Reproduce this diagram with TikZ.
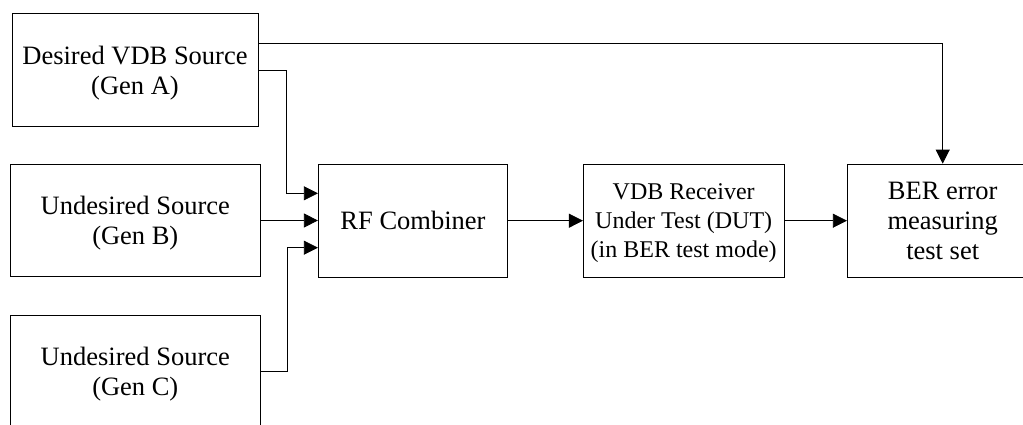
\documentclass[tikz,border=0pt]{standalone}
\usepackage{fontspec}
\setmainfont{Liberation Serif}
\usetikzlibrary{arrows.meta}
\begin{document}
\begin{tikzpicture}[x=1pt,y=-1pt,
  blk/.style={draw, line width=0.8pt, rectangle, inner sep=0pt, align=center,
    text depth=0pt, font=\fontsize{26.5}{30}\selectfont},
  small/.style={font=\fontsize{24}{29}\selectfont},
  conn/.style={line width=0.8pt},
  arr/.style={conn, -{Triangle[length=14pt,width=14pt]}}]
\useasboundingbox (0,0) rectangle (1023,425);
\node[blk, minimum width=246pt, minimum height=113.5pt] (A) at (135,70) {Desired VDB Source\\(Gen A)};
\node[blk, minimum width=249.3pt, minimum height=112.7pt] (B) at (135.3,220.5) {Undesired Source\\(Gen B)};
\node[blk, minimum width=249.3pt, minimum height=113pt] (C) at (135.3,371.5) {Undesired Source\\(Gen C)};
\node[blk, minimum width=189.4pt, minimum height=113.4pt] (RF) at (413,220.7) {RF Combiner};
\node[blk, small, minimum width=200.7pt, minimum height=113.3pt] (VDB) at (683.7,220.7) {VDB Receiver\\Under Test (DUT)\\(in BER test mode)};
\node[blk, minimum width=190.8pt, minimum height=113.3pt] (BER) at (942.7,220.7) {BER error\\measuring\\test set};
\draw[arr] ([yshift=26.7pt]A.east) -| (BER.north);
\draw[arr] (A.east) -| ([xshift=-32pt,yshift=27.4pt]RF.west) -- ([yshift=27.4pt]RF.west);
\draw[arr] (B.east) -- (B.east -| RF.west);
\draw[arr] (C.east) -| ([xshift=-31pt,yshift=-27pt]RF.west) -- ([yshift=-27pt]RF.west);
\draw[arr] (RF.east) -- (VDB.west);
\draw[arr] (VDB.east) -- (BER.west);
\end{tikzpicture}
\end{document}
